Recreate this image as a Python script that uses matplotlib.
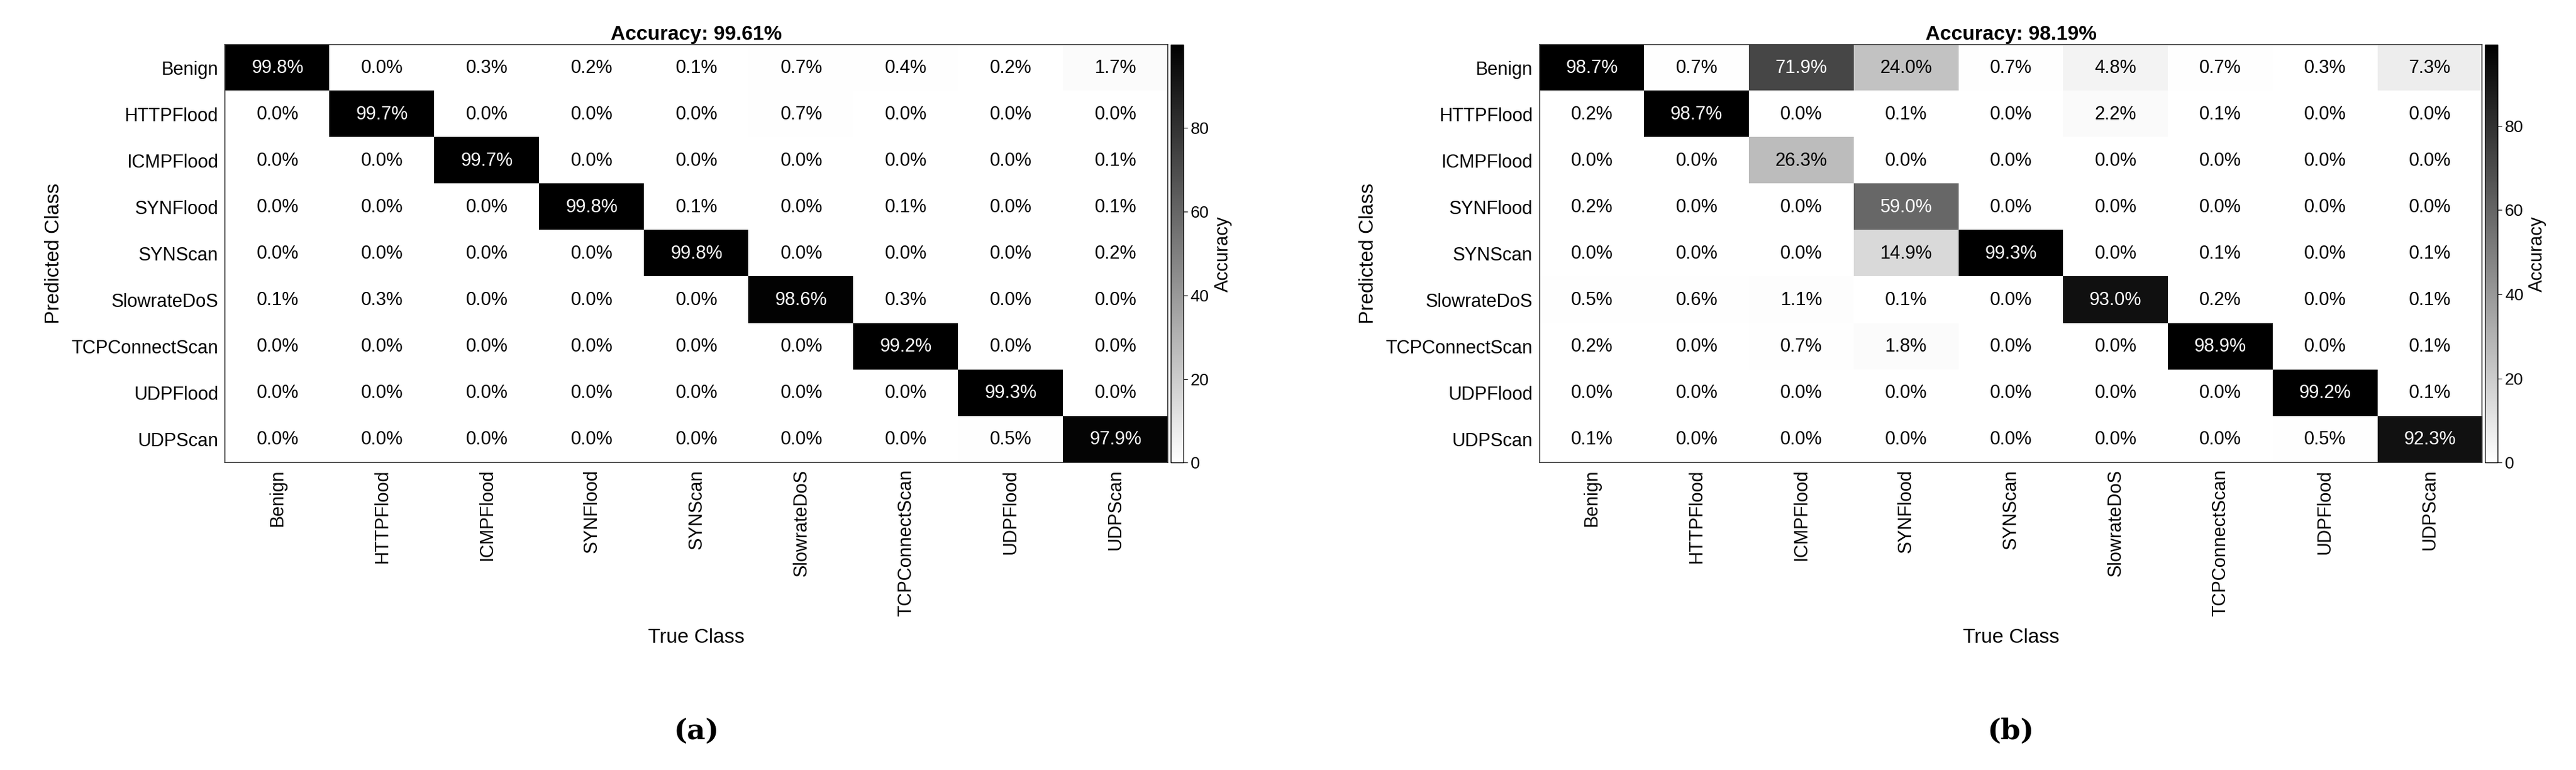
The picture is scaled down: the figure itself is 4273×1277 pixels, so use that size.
import numpy as np
import matplotlib
matplotlib.use("Agg")
import matplotlib.pyplot as plt

classes = ["Benign", "HTTPFlood", "ICMPFlood", "SYNFlood", "SYNScan",
           "SlowrateDoS", "TCPConnectScan", "UDPFlood", "UDPScan"]

cm_a = np.array([
    [99.8, 0.0, 0.3, 0.2, 0.1, 0.7, 0.4, 0.2, 1.7],
    [0.0, 99.7, 0.0, 0.0, 0.0, 0.7, 0.0, 0.0, 0.0],
    [0.0, 0.0, 99.7, 0.0, 0.0, 0.0, 0.0, 0.0, 0.1],
    [0.0, 0.0, 0.0, 99.8, 0.1, 0.0, 0.1, 0.0, 0.1],
    [0.0, 0.0, 0.0, 0.0, 99.8, 0.0, 0.0, 0.0, 0.2],
    [0.1, 0.3, 0.0, 0.0, 0.0, 98.6, 0.3, 0.0, 0.0],
    [0.0, 0.0, 0.0, 0.0, 0.0, 0.0, 99.2, 0.0, 0.0],
    [0.0, 0.0, 0.0, 0.0, 0.0, 0.0, 0.0, 99.3, 0.0],
    [0.0, 0.0, 0.0, 0.0, 0.0, 0.0, 0.0, 0.5, 97.9],
])
cm_b = np.array([
    [98.7, 0.7, 71.9, 24.0, 0.7, 4.8, 0.7, 0.3, 7.3],
    [0.2, 98.7, 0.0, 0.1, 0.0, 2.2, 0.1, 0.0, 0.0],
    [0.0, 0.0, 26.3, 0.0, 0.0, 0.0, 0.0, 0.0, 0.0],
    [0.2, 0.0, 0.0, 59.0, 0.0, 0.0, 0.0, 0.0, 0.0],
    [0.0, 0.0, 0.0, 14.9, 99.3, 0.0, 0.1, 0.0, 0.1],
    [0.5, 0.6, 1.1, 0.1, 0.0, 93.0, 0.2, 0.0, 0.1],
    [0.2, 0.0, 0.7, 1.8, 0.0, 0.0, 98.9, 0.0, 0.1],
    [0.0, 0.0, 0.0, 0.0, 0.0, 0.0, 0.0, 99.2, 0.1],
    [0.1, 0.0, 0.0, 0.0, 0.0, 0.0, 0.0, 0.5, 92.3],
])
titles = ["Accuracy: 99.61%", "Accuracy: 98.19%"]
panel_labels = ["(a)", "(b)"]
cbar_ticks = [0, 20, 40, 60, 80]

plt.rcParams['font.family'] = ['Liberation Sans', 'DejaVu Sans']
fig = plt.figure(figsize=(42.73, 12.77), dpi=100)

ax_lefts = [0.0874, 0.5976]
for k, cm in enumerate([cm_a, cm_b]):
    ax = fig.add_axes([ax_lefts[k], 0.399, 0.366, 0.543])
    vmax = cm.max()
    im = ax.imshow(cm, cmap="gray_r", vmin=0, vmax=vmax, aspect="auto",
                   interpolation="nearest")
    for i in range(cm.shape[0]):
        for j in range(cm.shape[1]):
            v = cm[i, j]
            ax.text(j, i, f"{v:.1f}%", ha="center", va="center", fontsize=22,
                    color="white" if v / vmax > 0.5 else "black")
    ax.set_xticks(range(len(classes)))
    ax.set_xticklabels(classes, rotation=90, fontsize=22)
    ax.set_yticks(range(len(classes)))
    ax.set_yticklabels(classes, fontsize=22)
    ax.tick_params(length=0, pad=8)
    ax.set_xlabel("True Class", fontsize=24, labelpad=14)
    ax.set_ylabel("Predicted Class", fontsize=24, labelpad=10)
    ax.set_title(titles[k], fontsize=24, fontweight="bold", pad=6)
    for s in ax.spines.values():
        s.set_linewidth(1.2)
        s.set_color("#333333")
    cax = fig.add_axes([ax_lefts[k] + 0.367, 0.399, 0.005, 0.543])
    cb = fig.colorbar(im, cax=cax, ticks=cbar_ticks)
    cb.ax.tick_params(labelsize=20, length=5)
    cb.set_label("Accuracy", fontsize=22, labelpad=6)
    cb.outline.set_linewidth(1.0)
    fig.text(ax_lefts[k] + 0.183, 0.05, panel_labels[k], ha="center",
             va="center", fontsize=34, family=["DejaVu Serif"],
             fontweight="bold")

fig.savefig("out.png", dpi=100, facecolor="white")
